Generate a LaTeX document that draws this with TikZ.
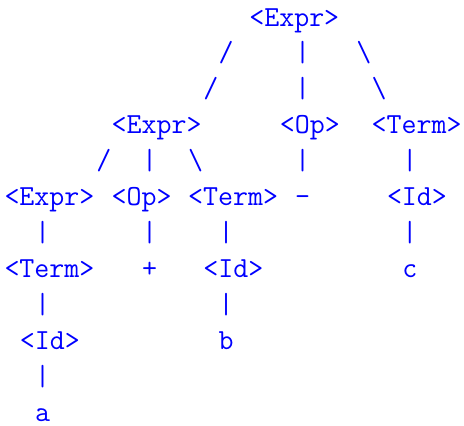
\documentclass[tikz,border=0pt]{standalone}
\usepackage{fontspec}
\definecolor{ink}{RGB}{0,0,255}
\tikzset{
  glyph/.style={anchor=base west, inner sep=0pt, outer sep=0pt, text=ink,
    font=\fontsize{14.55pt}{17.5pt}\ttfamily}
}
\newcommand\gcell[4]{\node[glyph] (#1) at ({4.5+15.3*#2},{26+35.95*#3}) {#4};}
\begin{document}
\begin{tikzpicture}[x=0.5pt,y=-0.5pt]
\useasboundingbox (0,0) rectangle (464,425);
% row 0
\gcell{E0}{16}{0}{<Expr>}
% row 1
\gcell{a1}{14}{1}{/}
\gcell{b1}{19}{1}{|}
\gcell{c1}{23}{1}{\textbackslash}
% row 2
\gcell{a2}{13}{2}{/}
\gcell{b2}{19}{2}{|}
\gcell{c2}{24}{2}{\textbackslash}
% row 3
\gcell{E1}{7}{3}{<Expr>}
\gcell{O0}{18}{3}{<Op>}
\gcell{T0}{24}{3}{<Term>}
% row 4
\gcell{a4}{6}{4}{/}
\gcell{b4}{9}{4}{|}
\gcell{c4}{12}{4}{\textbackslash}
\gcell{d4}{19}{4}{|}
\gcell{e4}{26}{4}{|}
% row 5
\gcell{E2}{0}{5}{<Expr>}
\gcell{O1}{7}{5}{<Op>}
\gcell{T1}{12}{5}{<Term>}
\gcell{minus}{19}{5}{-}
\gcell{I0}{25}{5}{<Id>}
% row 6
\gcell{a6}{2}{6}{|}
\gcell{b6}{9}{6}{|}
\gcell{c6}{14}{6}{|}
\gcell{d6}{26}{6}{|}
% row 7
\gcell{T2}{0}{7}{<Term>}
\gcell{plus}{9}{7}{+}
\gcell{I1}{13}{7}{<Id>}
\gcell{lc}{26}{7}{c}
% row 8
\gcell{a8}{2}{8}{|}
\gcell{b8}{14}{8}{|}
% row 9
\gcell{I2}{1}{9}{<Id>}
\gcell{lb}{14}{9}{b}
% row 10
\gcell{a10}{2}{10}{|}
% row 11
\gcell{la}{2}{11}{a}
\end{tikzpicture}
\end{document}
